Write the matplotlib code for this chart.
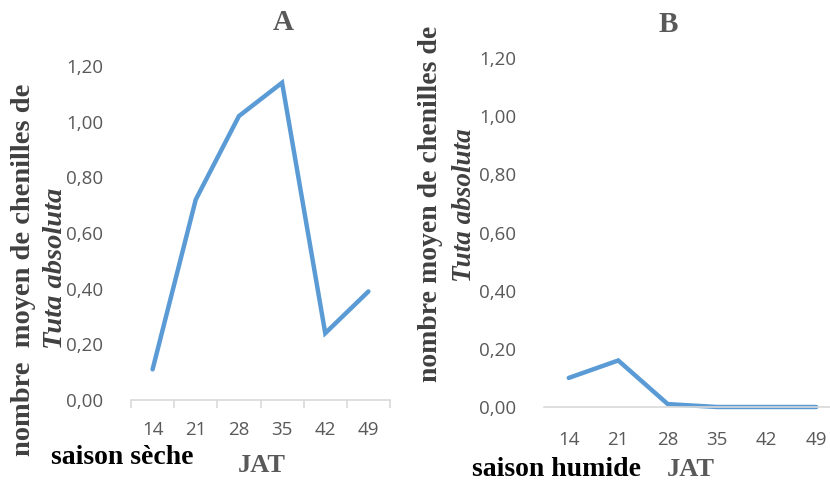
import numpy as np
import matplotlib.pyplot as plt

jat = ['14', '21', '28', '35', '42', '49']
saison_seche = [0.11, 0.72, 1.02, 1.14, 0.24, 0.39]
saison_humide = [0.10, 0.16, 0.01, 0.0, 0.0, 0.0]
yticks = [0.0, 0.2, 0.4, 0.6, 0.8, 1.0, 1.2]

W, H = 830, 484
blue = '#5B9BD5'
gray = '#595959'
dark = '#404040'
serif = 'Liberation Serif'
sans = 'Open Sans'

fig = plt.figure(figsize=(W / 100, H / 100), dpi=100)


def px(x, y):
    return x / W, 1 - y / H


def make_axes(left, right, top, bottom, data, ticks):
    ax = fig.add_axes([left / W, 1 - bottom / H, (right - left) / W, (bottom - top) / H])
    x = np.arange(len(jat))
    ax.plot(x, data, color=blue, lw=3.2, solid_capstyle='round', solid_joinstyle='miter', clip_on=False)
    ax.set_xlim(-0.5, len(jat) - 0.5)
    ax.set_ylim(0, 1.2)
    ax.set_yticks(yticks)
    ax.set_yticklabels([f'{v:.2f}'.replace('.', ',') for v in yticks])
    for s in ['top', 'right', 'left']:
        ax.spines[s].set_visible(False)
    ax.spines['bottom'].set_color('#D9D9D9')
    ax.spines['bottom'].set_linewidth(1.2)
    ax.tick_params(axis='y', length=0, pad=20, labelsize=13.5, labelcolor=gray)
    ax.set_xticks(x)
    ax.set_xticklabels(jat)
    if ticks:
        ax.set_xticks(np.arange(-0.5, len(jat)), minor=True)
        ax.tick_params(axis='x', which='minor', length=6, width=1.2, color='#D9D9D9')
        ax.tick_params(axis='x', which='major', length=0, pad=15, labelsize=13.5, labelcolor=gray)
    else:
        ax.tick_params(axis='x', length=0, pad=17, labelsize=13.5, labelcolor=gray)
    for lab in ax.get_xticklabels() + ax.get_yticklabels():
        lab.set_fontfamily(sans)
    ax.patch.set_alpha(0)
    return ax


make_axes(131, 390, 66, 400, saison_seche, True)
make_axes(544, 841, 58, 407, saison_humide, False)

# panel A texts
fig.text(*px(283, 22), 'A', ha='center', va='center', fontsize=21, fontweight='bold', family=serif, color=gray)
fig.text(*px(24, 270), 'nombre  moyen de chenilles de', rotation=90, ha='center', va='center',
         fontsize=20.5, fontweight='bold', family=serif, color=dark)
fig.text(*px(56, 268), 'Tuta absoluta', rotation=90, ha='center', va='center',
         fontsize=20.5, fontweight='bold', style='italic', family=serif, color=dark)
fig.text(*px(122, 457), 'saison sèche', ha='center', va='center', fontsize=20, fontweight='bold',
         family=serif, color='black')
fig.text(*px(262, 465), 'JAT', ha='center', va='center', fontsize=19, fontweight='bold',
         family=serif, color=gray)

# panel B texts
fig.text(*px(668, 25), 'B', ha='center', va='center', fontsize=21, fontweight='bold', family=serif, color=gray)
fig.text(*px(430, 204), 'nombre moyen de chenilles de', rotation=90, ha='center', va='center',
         fontsize=20, fontweight='bold', family=serif, color=dark)
fig.text(*px(464, 205), 'Tuta absoluta', rotation=90, ha='center', va='center',
         fontsize=19.5, fontweight='bold', style='italic', family=serif, color=dark)
fig.text(*px(556, 470), 'saison humide', ha='center', va='center', fontsize=20, fontweight='bold',
         family=serif, color='black')
fig.text(*px(691, 470), 'JAT', ha='center', va='center', fontsize=19, fontweight='bold',
         family=serif, color=gray)

fig.savefig('out.png', dpi=100)
